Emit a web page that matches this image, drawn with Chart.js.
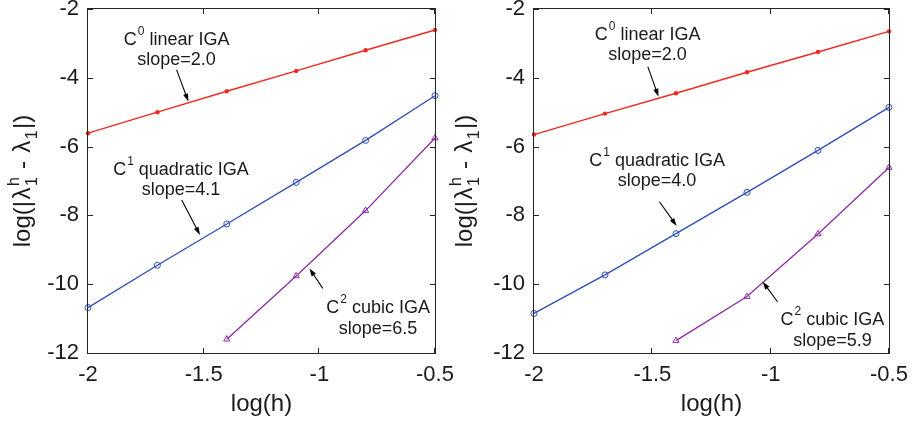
<!DOCTYPE html>
<html>
<head>
<meta charset="utf-8">
<title>Eigenvalue convergence</title>
<script src="https://cdn.jsdelivr.net/npm/chart.js@4.4.1/dist/chart.umd.min.js"></script>
<style>
    body { margin: 0; background: #fff; }
    .row { position: relative; width: 916px; height: 424px; }
    .row canvas { position: absolute; top: 0; display: block; }
    #left { left: 0; }
    #right { left: 440px; }
</style>
</head>
<body>
<div class="row">
    <canvas id="left" width="458" height="424"></canvas>
    <canvas id="right" width="476" height="424"></canvas>
</div>
<script>
(function () {
    'use strict';

    var FONT = '"Liberation Sans", Arial, Helvetica, sans-serif';
    var INK = '#1a1a1a';

    // log(h) of the six meshes; cubic runs start from the third mesh
    var logH = [-2.0, -1.7, -1.4, -1.1, -0.8, -0.5];
    var logHCubic = [-1.4, -1.1, -0.8, -0.5];

    // log(|lambda_1^h - lambda_1|), left panel
    var linearLeft = [-5.61, -5.00, -4.39, -3.80, -3.20, -2.61];
    var quadraticLeft = [-10.68, -9.45, -8.25, -7.04, -5.82, -4.52];
    var cubicLeft = [-11.60, -9.76, -7.86, -5.75];

    // log(|lambda_1^h - lambda_1|), right panel
    var linearRight = [-5.65, -5.04, -4.45, -3.84, -3.25, -2.65];
    var quadraticRight = [-10.85, -9.73, -8.53, -7.33, -6.11, -4.86];
    var cubicRight = [-11.64, -10.36, -8.54, -6.61];

    // axis limits and tick steps
    var xRange = [-2, -0.5];
    var yRange = [-12, -2];
    var xStep = 0.5;
    var yStep = 2;

    // curve labels
    var orders = ['0', '1', '2'];
    var methods = ['linear IGA', 'quadratic IGA', 'cubic IGA'];
    var slopesLeft = ['2.0', '4.1', '6.5'];
    var slopesRight = ['2.0', '4.0', '5.9'];

    var COLORS = ['#ee2a22', '#2c4db6', '#8a2ba2'];

    // per panel layout; note anchors and arrows are in data units
    var panels = [
        {
            id: 'left', axisWidth: 88, padRight: 23, titleX: 30,
            series: [linearLeft, quadraticLeft, cubicLeft],
            slopes: slopesLeft,
            notes: [
                {x: -1.617, y: -3.047, gap: 20, arrow: [-1.617, -3.77, -1.566, -4.69]},
                {x: -1.598, y: -6.826, gap: 20, arrow: [-1.595, -7.55, -1.516, -8.57]},
                {x: -0.746, y: -10.846, gap: 21, arrow: [-0.985, -10.12, -1.043, -9.54]}
            ]
        },
        {
            id: 'right', axisWidth: 94, padRight: 27, titleX: 32,
            series: [linearRight, quadraticRight, cubicRight],
            slopes: slopesRight,
            notes: [
                {x: -1.52, y: -2.901, gap: 20, arrow: [-1.519, -3.677, -1.474, -4.549]},
                {x: -1.48, y: -6.555, gap: 20, arrow: [-1.470, -7.602, -1.397, -8.308]},
                {x: -0.739, y: -11.186, gap: 21.5, arrow: [-0.971, -10.509, -1.034, -9.927]}
            ]
        }
    ];

    function toPoints(xs, ys) {
        return xs.map(function (x, i) { return {x: x, y: ys[i]}; });
    }

    function buildDatasets(series) {
        return [
            {
                data: toPoints(logH, series[0]),
                borderColor: COLORS[0], borderWidth: 1.4,
                pointStyle: 'circle', pointRadius: 2.2, pointBorderWidth: 0,
                pointBackgroundColor: COLORS[0]
            },
            {
                data: toPoints(logH, series[1]),
                borderColor: COLORS[1], borderWidth: 1.3,
                pointStyle: 'circle', pointRadius: 3, pointBorderWidth: 1,
                pointBorderColor: COLORS[1], pointBackgroundColor: 'rgba(255,255,255,0)'
            },
            {
                data: toPoints(logHCubic, series[2]),
                borderColor: COLORS[2], borderWidth: 1.3,
                pointStyle: 'triangle', pointRadius: 3.6, pointBorderWidth: 1,
                pointBorderColor: COLORS[2], pointBackgroundColor: 'rgba(255,255,255,0)'
            }
        ].map(function (ds) {
            ds.showLine = true;
            ds.fill = false;
            ds.tension = 0;
            ds.clip = false;
            return ds;
        });
    }

    // y label: log(|λ^h_1 - λ_1|), superscript and subscript stacked on the first λ
    function drawYTitle(ctx, baseX, centerY) {
        var big = '24px ' + FONT, small = '16px ' + FONT;
        var parts = [
            {t: 'log(|', f: big},
            {t: '\u03bb', f: big},
            {t: 'h', f: small, dy: -11, under: '1', udy: 7},
            {t: ' - ', f: big},
            {t: '\u03bb', f: big},
            {t: '1', f: small, dy: 7},
            {t: '|)', f: big}
        ];
        var gap = 1.5, total = 0;
        parts.forEach(function (p) {
            ctx.font = p.f;
            p.w = ctx.measureText(p.t).width;
            total += p.w + gap;
        });
        total -= gap;

        ctx.save();
        ctx.translate(baseX, centerY);
        ctx.rotate(-Math.PI / 2);
        ctx.fillStyle = INK;
        ctx.textAlign = 'left';
        ctx.textBaseline = 'alphabetic';
        var x = -total / 2;
        parts.forEach(function (p) {
            ctx.font = p.f;
            ctx.fillText(p.t, x, p.dy || 0);
            if (p.under) {
                ctx.fillText(p.under, x, p.udy);
            }
            x += p.w + gap;
        });
        ctx.restore();
    }

    function drawNote(ctx, cx, by, gap, order, method, slope) {
        var big = '18px ' + FONT, small = '12px ' + FONT;
        ctx.font = big;
        var wC = ctx.measureText('C').width;
        var wRest = ctx.measureText(' ' + method).width;
        ctx.font = small;
        var wSup = ctx.measureText(order).width + 1;
        var x = cx - (wC + wSup + wRest) / 2;

        ctx.fillStyle = INK;
        ctx.textAlign = 'left';
        ctx.textBaseline = 'alphabetic';
        ctx.font = big;
        ctx.fillText('C', x, by);
        ctx.font = small;
        ctx.fillText(order, x + wC + 1, by - 10);
        ctx.font = big;
        ctx.fillText(' ' + method, x + wC + wSup, by);
        ctx.textAlign = 'center';
        ctx.fillText('slope=' + slope, cx, by + gap);
    }

    function drawArrow(ctx, x0, y0, x1, y1) {
        var a = Math.atan2(y1 - y0, x1 - x0);
        var len = 8, half = 2.6;
        var c = Math.cos(a), s = Math.sin(a);
        ctx.strokeStyle = '#000';
        ctx.fillStyle = '#000';
        ctx.lineWidth = 1.1;
        ctx.beginPath();
        ctx.moveTo(x0, y0);
        ctx.lineTo(x1 - c * len * 0.7, y1 - s * len * 0.7);
        ctx.stroke();
        ctx.beginPath();
        ctx.moveTo(x1, y1);
        ctx.lineTo(x1 - len * c + half * s, y1 - len * s - half * c);
        ctx.lineTo(x1 - len * c - half * s, y1 - len * s + half * c);
        ctx.closePath();
        ctx.fill();
    }

    // box with inward ticks, axis titles and curve notes
    function decorations(panel) {
        return {
            id: 'decorations',
            afterDraw: function (chart) {
                var ctx = chart.ctx;
                var a = chart.chartArea;
                var sx = chart.scales.x, sy = chart.scales.y;
                var tick = 5;

                ctx.save();
                ctx.strokeStyle = '#262626';
                ctx.lineWidth = 1;
                ctx.strokeRect(a.left - 0.5, a.top - 0.5, a.right - a.left + 1, a.bottom - a.top + 1);
                ctx.beginPath();
                sx.ticks.forEach(function (t) {
                    var px = Math.round(sx.getPixelForValue(t.value)) - 0.5;
                    ctx.moveTo(px, a.bottom);
                    ctx.lineTo(px, a.bottom - tick);
                    ctx.moveTo(px, a.top);
                    ctx.lineTo(px, a.top + tick);
                });
                sy.ticks.forEach(function (t) {
                    var py = Math.round(sy.getPixelForValue(t.value)) + 0.5;
                    ctx.moveTo(a.left, py);
                    ctx.lineTo(a.left + tick, py);
                    ctx.moveTo(a.right, py);
                    ctx.lineTo(a.right - tick, py);
                });
                ctx.stroke();

                // axis titles
                ctx.fillStyle = INK;
                ctx.font = '24px ' + FONT;
                ctx.textAlign = 'center';
                ctx.textBaseline = 'alphabetic';
                ctx.fillText('log(h)', (a.left + a.right) / 2, 411);
                drawYTitle(ctx, panel.titleX, (a.top + a.bottom) / 2);

                // slope notes with arrows
                panel.notes.forEach(function (n, i) {
                    drawNote(ctx, sx.getPixelForValue(n.x), sy.getPixelForValue(n.y), n.gap,
                        orders[i], methods[i], panel.slopes[i]);
                    drawArrow(ctx,
                        sx.getPixelForValue(n.arrow[0]), sy.getPixelForValue(n.arrow[1]),
                        sx.getPixelForValue(n.arrow[2]), sy.getPixelForValue(n.arrow[3]));
                });
                ctx.restore();
            }
        };
    }

    function plainNumber(value) {
        return String(value);
    }

    function buildChart(panel) {
        var canvas = document.getElementById(panel.id);
        return new Chart(canvas.getContext('2d'), {
            type: 'scatter',
            data: {datasets: buildDatasets(panel.series)},
            options: {
                responsive: false,
                animation: false,
                devicePixelRatio: 1,
                layout: {padding: {top: 9, right: panel.padRight, bottom: 0, left: 0}},
                plugins: {legend: {display: false}, tooltip: {enabled: false}},
                scales: {
                    x: {
                        type: 'linear', min: xRange[0], max: xRange[1],
                        grid: {display: false, drawTicks: false},
                        border: {display: false},
                        ticks: {
                            stepSize: xStep, padding: 9, maxRotation: 0, autoSkip: false,
                            color: INK, font: {family: FONT, size: 22},
                            callback: plainNumber
                        },
                        afterFit: function (scale) {
                            scale.height = 71;
                            scale.paddingLeft = 0;
                            scale.paddingRight = 0;
                        }
                    },
                    y: {
                        type: 'linear', min: yRange[0], max: yRange[1],
                        grid: {display: false, drawTicks: false},
                        border: {display: false},
                        ticks: {
                            stepSize: yStep, padding: 9,
                            color: INK, font: {family: FONT, size: 22},
                            callback: plainNumber
                        },
                        afterFit: function (scale) {
                            scale.width = panel.axisWidth;
                            scale.paddingTop = 0;
                            scale.paddingBottom = 0;
                        }
                    }
                }
            },
            plugins: [decorations(panel)]
        });
    }

    panels.forEach(buildChart);
})();
</script>
</body>
</html>
